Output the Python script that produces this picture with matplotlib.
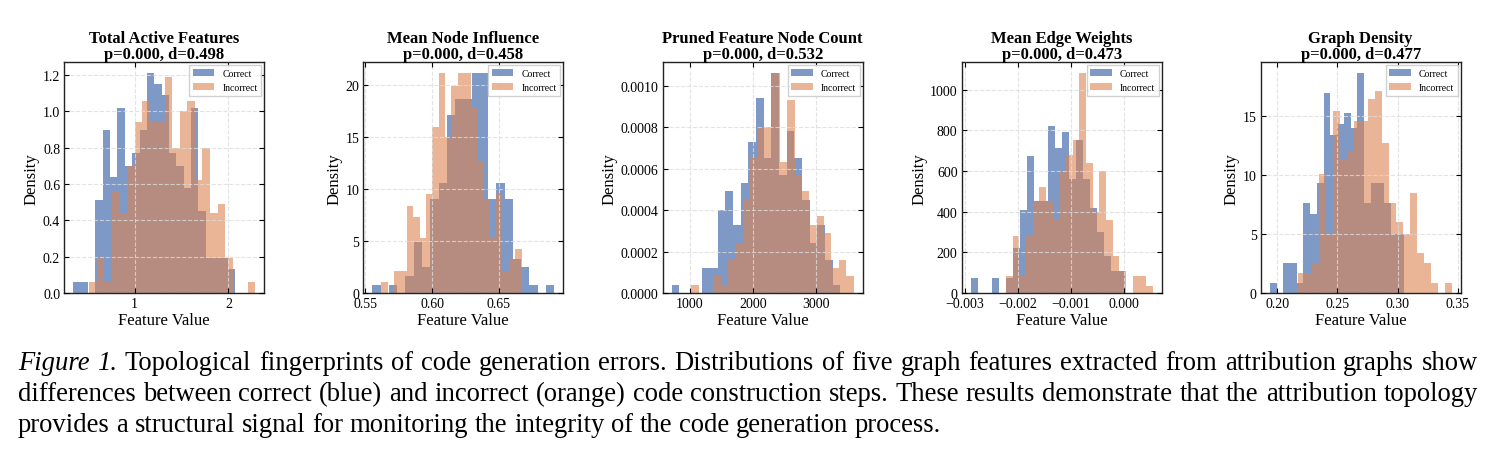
import numpy as np
import matplotlib.pyplot as plt

plt.rcParams['font.family'] = ['Liberation Serif', 'DejaVu Serif']

titles = ["Total Active Features",
          "Mean Node Influence",
          "Pruned Feature Node Count",
          "Mean Edge Weights",
          "Graph Density"]
stats = ["p=0.000, d=0.498",
         "p=0.000, d=0.458",
         "p=0.000, d=0.532",
         "p=0.000, d=0.473",
         "p=0.000, d=0.477"]

# histogram ranges (first / last bin edge) and bin heights
correct_range = [(0.347, 2.071), (0.5553, 0.6915), (714, 3376), (-0.002886, 0.00002), (0.1939, 0.3056)]
incorrect_range = [(0.518, 2.286), (0.562, 0.667), (1021, 3587), (-0.002222, 0.000544), (0.2175, 0.3447)]

correct_h = [
    [0.06, 0.06, 0.0, 0.51, 0.90, 0.64, 1.02, 0.70, 0.77, 0.90, 1.21,
     1.15, 1.09, 0.77, 0.70, 0.58, 1.02, 0.45, 0.19, 0.19, 0.19, 0.13],
    [0.8, 0, 0.8, 0, 1.6, 4.9, 2.5, 9.0, 10.6, 17.1, 18.6,
     18.6, 21.1, 21.1, 9.0, 10.6, 9.0, 3.3, 2.5, 0.8, 0, 0.8],
    [0.00004, 0, 0, 0, 0.00012, 0.00012, 0.00040, 0.00049, 0.00033, 0.00053, 0.00073,
     0.00094, 0.00065, 0.00106, 0.00057, 0.00078, 0.00065, 0.00045, 0.00024, 0.00033, 0.00016, 0.00004],
    [72, 0, 0, 72, 0, 72, 220, 410, 675, 450, 450,
     823, 711, 790, 560, 750, 560, 420, 300, 180, 110, 110],
    [0.85, 0, 2.5, 2.5, 0.85, 7.6, 6.7, 9.3, 16.9, 13.4,
     14.3, 15.2, 14.0, 18.6, 7.6, 9.3, 9.3, 7.6, 5.0, 5.0],
]
incorrect_h = [
    [0.06, 0.19, 0.06, 0.56, 0.44, 0.70, 0.94, 1.06, 0.94, 0.94, 1.19,
     0.80, 1.00, 1.06, 0.62, 0.80, 0.44, 0.49, 0.19, 0.0, 0.0, 0.06],
    [1.05, 0, 2.1, 2.1, 8.4, 7.3, 5.3, 9.5, 15.9, 21.1, 15.0,
     19.9, 21.1, 21.1, 17.9, 12.6, 9.0, 5.3, 9.5, 2.1, 3.2, 4.2],
    [0.00004, 0, 0, 0.00008, 0.00004, 0.00016, 0.00024, 0.00045, 0.00065, 0.00080, 0.00080,
     0.00106, 0.00063, 0.00093, 0.00057, 0.00049, 0.00033, 0.00037, 0.00029, 0.00012, 0.00016, 0.00008],
    [82, 280, 82, 280, 450, 520, 450, 364, 600, 680, 750,
     1080, 640, 400, 600, 360, 180, 110, 0, 82, 82, 36],
    [1.7, 1.7, 2.5, 10.1, 5.1, 15.4, 11.3, 12.0, 14.6, 14.6, 16.4,
     17.1, 12.7, 7.6, 6.0, 5.0, 8.5, 3.4, 2.5, 0.85, 0, 0.85],
]

xticks = [[1, 2],
          [0.55, 0.60, 0.65],
          [1000, 2000, 3000],
          [-0.003, -0.002, -0.001, 0.000],
          [0.20, 0.25, 0.30, 0.35]]
xfmt = ["{:.0f}", "{:.2f}", "{:.0f}", "{:.3f}", "{:.2f}"]
yticks = [[0.0, 0.2, 0.4, 0.6, 0.8, 1.0, 1.2],
          [0, 5, 10, 15, 20],
          [0.0, 0.0002, 0.0004, 0.0006, 0.0008, 0.0010],
          [0, 200, 400, 600, 800, 1000],
          [0, 5, 10, 15]]
yfmt = ["{:.1f}", "{:.0f}", "{:.4f}", "{:.0f}", "{:.0f}"]

caption = ["Figure 1. Topological fingerprints of code generation errors. Distributions of five graph features extracted from attribution graphs show",
           "differences between correct (blue) and incorrect (orange) code construction steps. These results demonstrate that the attribution topology",
           "provides a structural signal for monitoring the integrity of the code generation process."]

blue = '#4C72B0'
orange = '#DD8452'

W, H = 1492, 452
fig = plt.figure(figsize=(W / 100, H / 100), dpi=100)

lefts = [64.3, 363.3, 662.7, 961.7, 1260.7]
for i in range(5):
    ax = fig.add_axes([lefts[i] / W, (H - 294) / H, 200 / W, 230.7 / H])

    for rng, h, col, a, lab in [(correct_range[i], correct_h[i], blue, 0.72, 'Correct'),
                                (incorrect_range[i], incorrect_h[i], orange, 0.6, 'Incorrect')]:
        edges = np.linspace(rng[0], rng[1], len(h) + 1)
        centers = (edges[:-1] + edges[1:]) / 2
        ax.hist(centers, bins=edges, weights=h, color=col, alpha=a, label=lab)

    ax.set_xticks(xticks[i])
    ax.set_xticklabels([xfmt[i].format(t).replace('-', '\u2212') for t in xticks[i]])
    ax.set_yticks(yticks[i])
    ax.set_yticklabels([yfmt[i].format(t) for t in yticks[i]])
    ax.tick_params(direction='in', top=True, right=True, labelsize=10, length=3.5, width=0.8, pad=3)
    ax.grid(True, linestyle='--', color='#dcdcdc', linewidth=0.8, alpha=0.8)
    ax.set_axisbelow(False)
    for sp in ax.spines.values():
        sp.set_linewidth(1.0)
        sp.set_color('#222222')

    ax.set_title(titles[i] + "\n" + stats[i], fontsize=12, fontweight='bold', pad=3, linespacing=1.0)
    ax.set_xlabel('Feature Value', fontsize=12, labelpad=1)
    ax.set_ylabel('Density', fontsize=12, labelpad=2)
    ax.legend(loc='upper right', fontsize=7, borderpad=0.4, handlelength=2.2,
              fancybox=False, edgecolor='#cccccc', framealpha=0.9, borderaxespad=0.3)

# caption: justified lines, "Figure 1." in italic
cap_ax = fig.add_axes([0, 0, 1, 1])
cap_ax.axis('off')
renderer = fig.canvas.get_renderer()
cs = 19.2
x0, x1 = 18, 1478
baselines = [370, 401, 432]
for n, line in enumerate(caption):
    words = line.split(' ')
    texts = []
    for k, w in enumerate(words):
        italic = (n == 0 and k < 2)
        texts.append(cap_ax.text(0, 1 - baselines[n] / H, w, fontsize=cs, va='baseline', ha='left',
                                 style='italic' if italic else 'normal'))
    widths = [t.get_window_extent(renderer).width for t in texts]
    if n < len(caption) - 1:
        gap = (x1 - x0 - sum(widths)) / (len(words) - 1)
    else:
        gap = cs * 100 / 72 * 0.25
    x = x0
    for t, wd in zip(texts, widths):
        t.set_x(x / W)
        x += wd + gap

fig.savefig('out.png', dpi=100)
